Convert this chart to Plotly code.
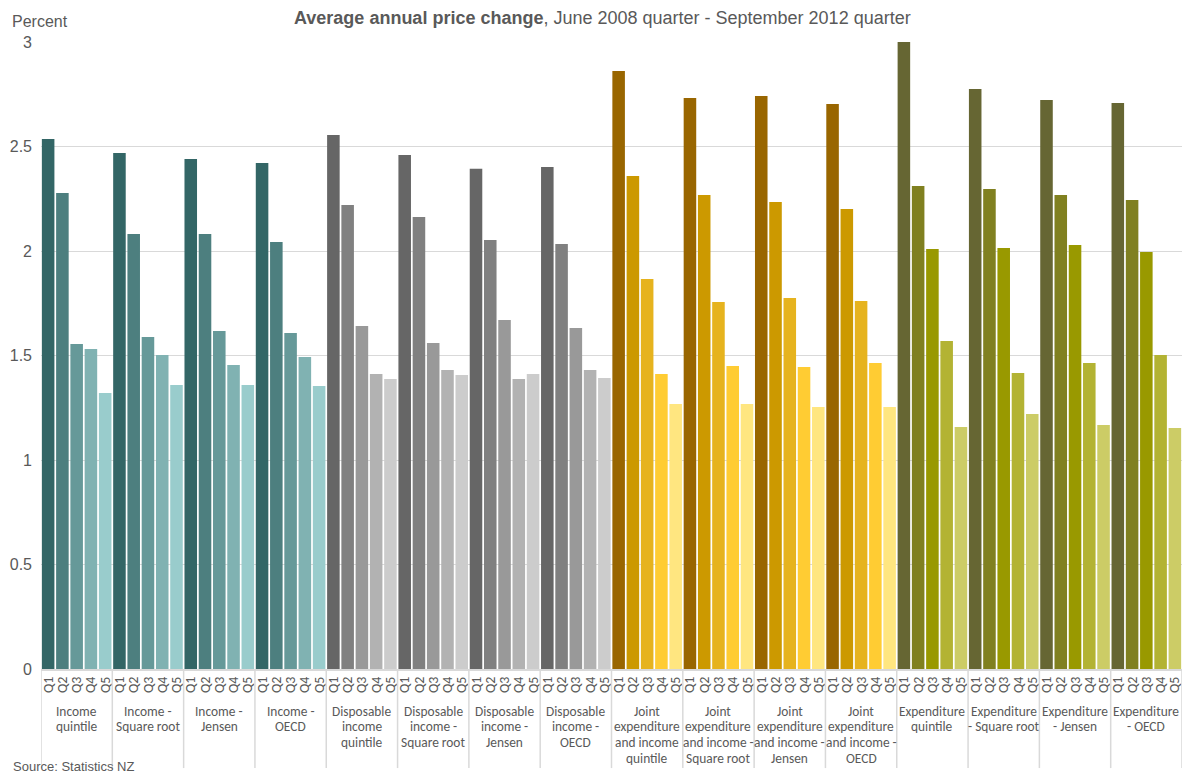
import plotly.graph_objects as go

groups = ["Income<br>quintile", "Income -<br>Square root", "Income -<br>Jensen", "Income -<br>OECD",
          "Disposable<br>income<br>quintile", "Disposable<br>income -<br>Square root", "Disposable<br>income -<br>Jensen", "Disposable<br>income -<br>OECD",
          "Joint<br>expenditure<br>and income<br>quintile", "Joint<br>expenditure<br>and income -<br>Square root", "Joint<br>expenditure<br>and income -<br>Jensen", "Joint<br>expenditure<br>and income -<br>OECD",
          "Expenditure<br>quintile", "Expenditure<br>- Square root", "Expenditure<br>- Jensen", "Expenditure<br>- OECD"]
quintiles = ["Q1", "Q2", "Q3", "Q4", "Q5"]

income_quintile = [2.536, 2.278, 1.555, 1.531, 1.320]
income_sqrt = [2.469, 2.081, 1.589, 1.502, 1.359]
income_jensen = [2.440, 2.081, 1.617, 1.455, 1.359]
income_oecd = [2.421, 2.043, 1.608, 1.493, 1.354]
disp_quintile = [2.555, 2.220, 1.641, 1.411, 1.388]
disp_sqrt = [2.459, 2.163, 1.560, 1.431, 1.407]
disp_jensen = [2.393, 2.053, 1.670, 1.388, 1.411]
disp_oecd = [2.402, 2.033, 1.632, 1.431, 1.392]
joint_quintile = [2.861, 2.359, 1.866, 1.411, 1.268]
joint_sqrt = [2.732, 2.268, 1.756, 1.450, 1.268]
joint_jensen = [2.742, 2.234, 1.775, 1.445, 1.254]
joint_oecd = [2.703, 2.201, 1.761, 1.464, 1.254]
exp_quintile = [3.000, 2.311, 2.010, 1.569, 1.158]
exp_sqrt = [2.775, 2.297, 2.014, 1.416, 1.220]
exp_jensen = [2.722, 2.268, 2.029, 1.464, 1.167]
exp_oecd = [2.708, 2.244, 1.995, 1.502, 1.153]

series = [income_quintile, income_sqrt, income_jensen, income_oecd,
          disp_quintile, disp_sqrt, disp_jensen, disp_oecd,
          joint_quintile, joint_sqrt, joint_jensen, joint_oecd,
          exp_quintile, exp_sqrt, exp_jensen, exp_oecd]

palettes = [
    ["#336666", "#4D7F7F", "#669999", "#80B2B2", "#99CCCC"],
    ["#666666", "#808080", "#999999", "#B2B2B2", "#CCCCCC"],
    ["#996600", "#CC9900", "#E6B31E", "#FFCC33", "#FFE680"],
    ["#666633", "#808020", "#999900", "#B3B333", "#CCCC66"],
]

xs, ys, cols, ticktext = [], [], [], []
for g, vals in enumerate(series):
    for q, v in enumerate(vals):
        xs.append(g * 5 + q)
        ys.append(v)
        cols.append(palettes[g // 4][q])
        ticktext.append(quintiles[q])

fig = go.Figure(go.Bar(x=xs, y=ys, marker=dict(color=cols, line=dict(width=0)), width=0.88))

catfont = "Carlito, 'Liberation Sans Narrow', 'Arial Narrow', 'Open Sans', sans-serif"
grey = "#595959"
arial = "'Liberation Sans', Arial, sans-serif"

shapes = []
annotations = []
for g in range(len(groups) + 1):
    shapes.append(dict(type="line", xref="x", yref="paper", x0=g * 5 - 0.5, x1=g * 5 - 0.5,
                       y0=0, y1=-0.158, line=dict(color="#D9D9D9", width=1.5)))
for g, name in enumerate(groups):
    for i, line in enumerate(name.split("<br>")):
        annotations.append(dict(text=line, xref="x", yref="paper", x=g * 5 + 2, y=0,
                                yshift=-42 - i * 15.8, yanchor="middle", xanchor="center",
                                showarrow=False,
                                font=dict(family=catfont, size=13.4, color=grey)))

annotations.append(dict(text="<b>Average annual price change</b>, June 2008 quarter - September 2012 quarter",
                        xref="paper", yref="paper", x=0.492, y=1.0, yshift=24, xanchor="center", yanchor="middle",
                        showarrow=False, font=dict(family=arial, size=18, color=grey)))
annotations.append(dict(text="Percent", xref="paper", yref="paper", x=-0.027, y=1.0, yshift=21,
                        xanchor="left", yanchor="middle", showarrow=False,
                        font=dict(family=arial, size=16, color=grey)))
annotations.append(dict(text="Source: Statistics NZ", xref="paper", yref="paper", x=-0.026, y=-0.155,
                        xanchor="left", yanchor="middle", showarrow=False,
                        font=dict(family=arial, size=13, color=grey)))

fig.update_layout(
    width=1182, height=774,
    margin=dict(l=41, r=0, t=42, b=105),
    plot_bgcolor="white", paper_bgcolor="white",
    showlegend=False,
    shapes=shapes, annotations=annotations,
    xaxis=dict(range=[-0.5, 79.5], tickmode="array", tickvals=xs, ticktext=ticktext,
               tickangle=-90, tickfont=dict(family=catfont, size=14, color=grey),
               ticklabeloverflow="allow",
               showgrid=False, showline=True, linecolor="#D9D9D9", linewidth=2, ticks="",
               zeroline=False),
    yaxis=dict(range=[0, 3], tickvals=[0, 0.5, 1, 1.5, 2, 2.5, 3],
               ticktext=["0", "0.5", "1", "1.5", "2", "2.5", "3"],
               showgrid=True, gridcolor="#D9D9D9", gridwidth=1, zeroline=False,
               tickfont=dict(family=arial, size=16, color=grey),
               ticklabelstandoff=8),
)

fig.write_html("out.html")
